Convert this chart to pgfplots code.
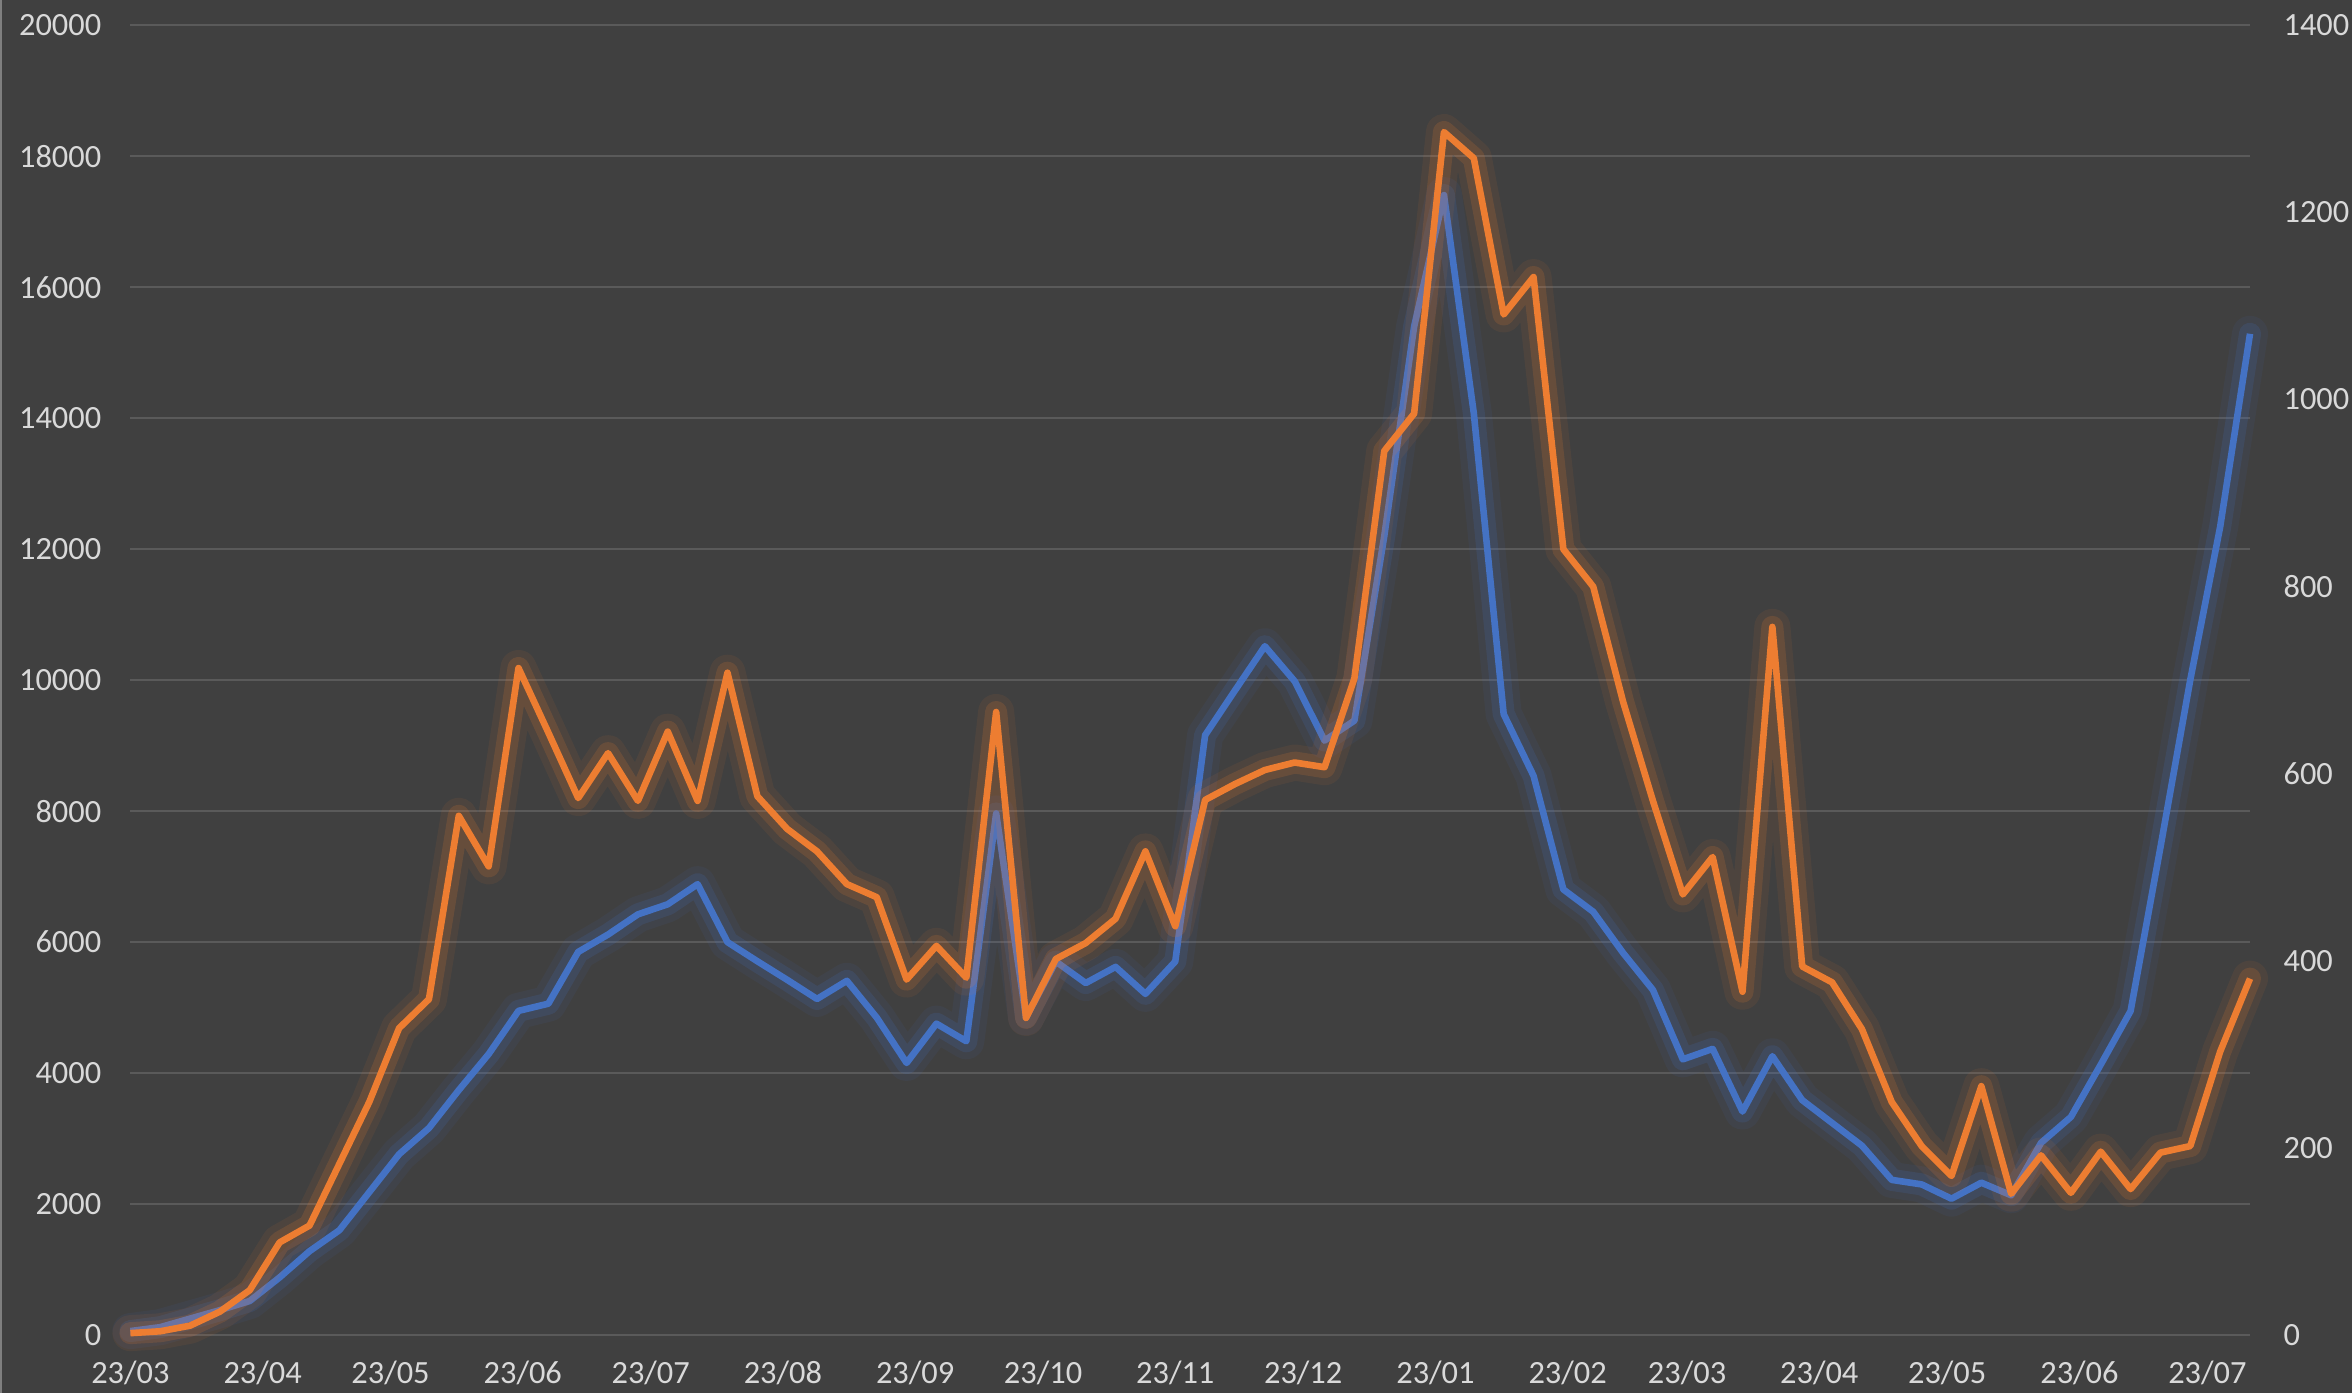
\documentclass[border=0pt]{standalone}
\usepackage{pgfplots}
\pgfplotsset{compat=1.18}
\usepackage{pgfplotstable}
\usepackage{fontspec}
\setmainfont{Carlito}
\definecolor{bgc}{HTML}{404040}
\definecolor{gridc}{HTML}{5A5A5A}
\definecolor{txtc}{HTML}{D9D9D9}
\definecolor{bluec}{HTML}{4472C4}
\definecolor{orangec}{HTML}{ED7D31}
\definecolor{borderc}{HTML}{7F7F7F}

\pgfplotstableread{
day blue orange
0 60 2
7 120 4
14 250 10
21 380 25
28 520 48
35 880 99
42 1280 117
49 1600 183
56 2180 249
63 2760 328
70 3160 359
77 3740 555
84 4290 501
91 4950 713
98 5060 644
105 5850 574
112 6116 622
119 6424 571
126 6578 645
133 6885 571
140 6000 708
147 5708 576
154 5424 541
161 5132 517
168 5409 482
175 4847 468
182 4155 380
189 4755 416
196 4486 382
203 7965 666
210 4850 339
217 5704 402
224 5375 419
231 5622 445
238 5210 517
245 5704 437
252 9161 572
259 9844 589
266 10519 604
273 9984 612
280 9078 607
287 9383 702
294 12200 945
301 15400 985
308 17409 1286
315 14075 1258
322 9483 1091
329 8540 1131
336 6804 840
343 6464 800
350 5835 677
357 5269 571
364 4210 471
371 4370 511
378 3413 367
385 4257 757
392 3587 394
399 3239 377
406 2891 327
413 2369 249
420 2300 202
427 2082 170
434 2326 266
441 2134 151
448 2935 192
455 3330 152
462 4130 196
469 4948 156
476 7450 195
483 10008 202
490 12343 303
497 15290 381
}\datatable

\pgfplotsset{
  common/.style={
    at={(32.6pt,14.5pt)}, anchor=south west,
    scale only axis, width=529.9pt, height=327.4pt,
    xmin=0, xmax=497, clip=false,
    axis line style={draw=none},
    tick style={draw=none}, major tick length=0pt,
    tick label style={font=\fontsize{8.1}{9.5}\selectfont, text=txtc},
    /pgf/number format/1000 sep={},
    /pgf/number format/assume math mode=true,
    scaled y ticks=false,
  },
  glowA/.style={line width=9pt, opacity=0.08, line join=round, line cap=round},
  glowB/.style={line width=5.5pt, opacity=0.16, line join=round, line cap=round},
  mainl/.style={line width=1.65pt, line join=round},
}

\begin{document}
\begin{tikzpicture}
\fill[bgc] (0,0) rectangle (588pt,348.25pt);
\draw[borderc, line width=0.6pt] (0.3pt,0) -- (0.3pt,348.25pt);
\begin{axis}[common,
  ymin=0, ymax=20000, ytick={0,2000,...,20000},
  ymajorgrids, grid style={gridc, line width=0.5pt},
  xtick={0,31,61,92,122,153,184,214,245,275,306,337,365,396,426,457,487},
  xticklabels={23/03,23/04,23/05,23/06,23/07,23/08,23/09,23/10,23/11,23/12,23/01,23/02,23/03,23/04,23/05,23/06,23/07},
  x tick label style={anchor=base, yshift=-12.2pt},
  y tick label style={anchor=east, inner sep=0pt, xshift=-7.1pt},
]
\addplot[bluec, glowA, no markers] table[x=day, y=blue] {\datatable};
\addplot[bluec, glowB, no markers] table[x=day, y=blue] {\datatable};
\addplot[bluec, mainl, no markers] table[x=day, y=blue] {\datatable};
\end{axis}
\begin{axis}[common,
  ymin=0, ymax=1400, ytick={0,200,...,1400},
  xtick=\empty, yticklabel pos=right,
  y tick label style={anchor=west, inner sep=0pt, xshift=8.2pt},
]
\addplot[orangec, glowA, no markers] table[x=day, y=orange] {\datatable};
\addplot[orangec, glowB, no markers] table[x=day, y=orange] {\datatable};
\addplot[orangec, mainl, no markers] table[x=day, y=orange] {\datatable};
\end{axis}
\pgfresetboundingbox
\useasboundingbox (0,0) rectangle (588pt,348.25pt);
\end{tikzpicture}
\end{document}
